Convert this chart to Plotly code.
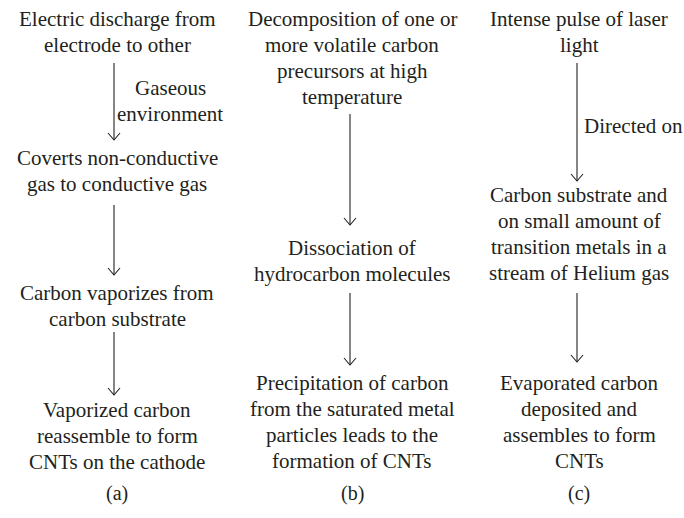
import plotly.graph_objects as go

# ---- content ----
col_a_steps = [
    ["Electric discharge from", "electrode to other"],
    ["Coverts non-conductive", "gas to conductive gas"],
    ["Carbon vaporizes from", "carbon substrate"],
    ["Vaporized carbon", "reassemble to form", "CNTs on the cathode"],
]
col_b_steps = [
    ["Decomposition of one or", "more volatile carbon", "precursors at high", "temperature"],
    ["Dissociation of", "hydrocarbon molecules"],
    ["Precipitation of carbon", "from the saturated metal", "particles leads to the", "formation of CNTs"],
]
col_c_steps = [
    ["Intense pulse of laser", "light"],
    ["Carbon substrate and", "on small amount of", "transition metals in a", "stream of Helium gas"],
    ["Evaporated carbon", "deposited and", "assembles to form", "CNTs"],
]
arrow_labels_a = [["Gaseous", "environment"]]
arrow_labels_c = [["Directed on"]]
panel_labels = ["(a)", "(b)", "(c)"]

# ---- layout (viewport pixel positions) ----
W, H = 684, 518
FONT = "Liberation Serif"
COLOR = "#231F20"
FS = 21
LS = 26  # line spacing

col_x = [117, 352, 579]
arrow_x = [114, 350, 577]
first_line_y = [
    [19, 158, 293, 410],
    [19, 248, 383],
    [19, 195, 383],
]
arrows = [
    [(63, 140), (205, 275), (332, 395)],
    [(114, 225), (293, 365)],
    [(63, 181), (293, 362)],
]
arrow_label_pos = [[(170, 88)], [], [(633, 126)]]
panel_y = 493

steps = [col_a_steps, col_b_steps, col_c_steps]
labels = [arrow_labels_a, [], arrow_labels_c]

annotations = []
shapes = []


def add_lines(x, y0, lines):
    for k, ln in enumerate(lines):
        annotations.append(dict(
            x=x, y=y0 + k * LS, text=ln, showarrow=False,
            xanchor="center", yanchor="middle", align="center",
            font=dict(family=FONT, size=FS, color=COLOR)))


for ci in range(3):
    for si, lines in enumerate(steps[ci]):
        add_lines(col_x[ci], first_line_y[ci][si], lines)
    for (y0, y1) in arrows[ci]:
        ax = arrow_x[ci]
        shapes.append(dict(type="line", x0=ax, x1=ax, y0=y0, y1=y1,
                           line=dict(color=COLOR, width=1.1)))
        shapes.append(dict(type="path",
                           path=f"M {ax-6},{y1-7} L {ax},{y1} L {ax+6},{y1-7}",
                           line=dict(color=COLOR, width=1.1)))
    for li, (lx, ly) in enumerate(arrow_label_pos[ci]):
        add_lines(lx, ly, labels[ci][li])
    annotations.append(dict(
        x=col_x[ci], y=panel_y, text=panel_labels[ci], showarrow=False,
        xanchor="center", yanchor="middle",
        font=dict(family=FONT, size=FS - 1, color=COLOR)))

fig = go.Figure()
fig.update_layout(
    width=W, height=H,
    margin=dict(l=0, r=0, t=0, b=0),
    paper_bgcolor="white", plot_bgcolor="white",
    xaxis=dict(range=[0, W], visible=False, fixedrange=True),
    yaxis=dict(range=[H, 0], visible=False, fixedrange=True),
    annotations=annotations, shapes=shapes,
    showlegend=False,
)
fig.write_html(
    "out.html",
    config={"displayModeBar": False},
    post_script="document.body.style.margin='0';document.body.style.overflow='hidden';",
)
